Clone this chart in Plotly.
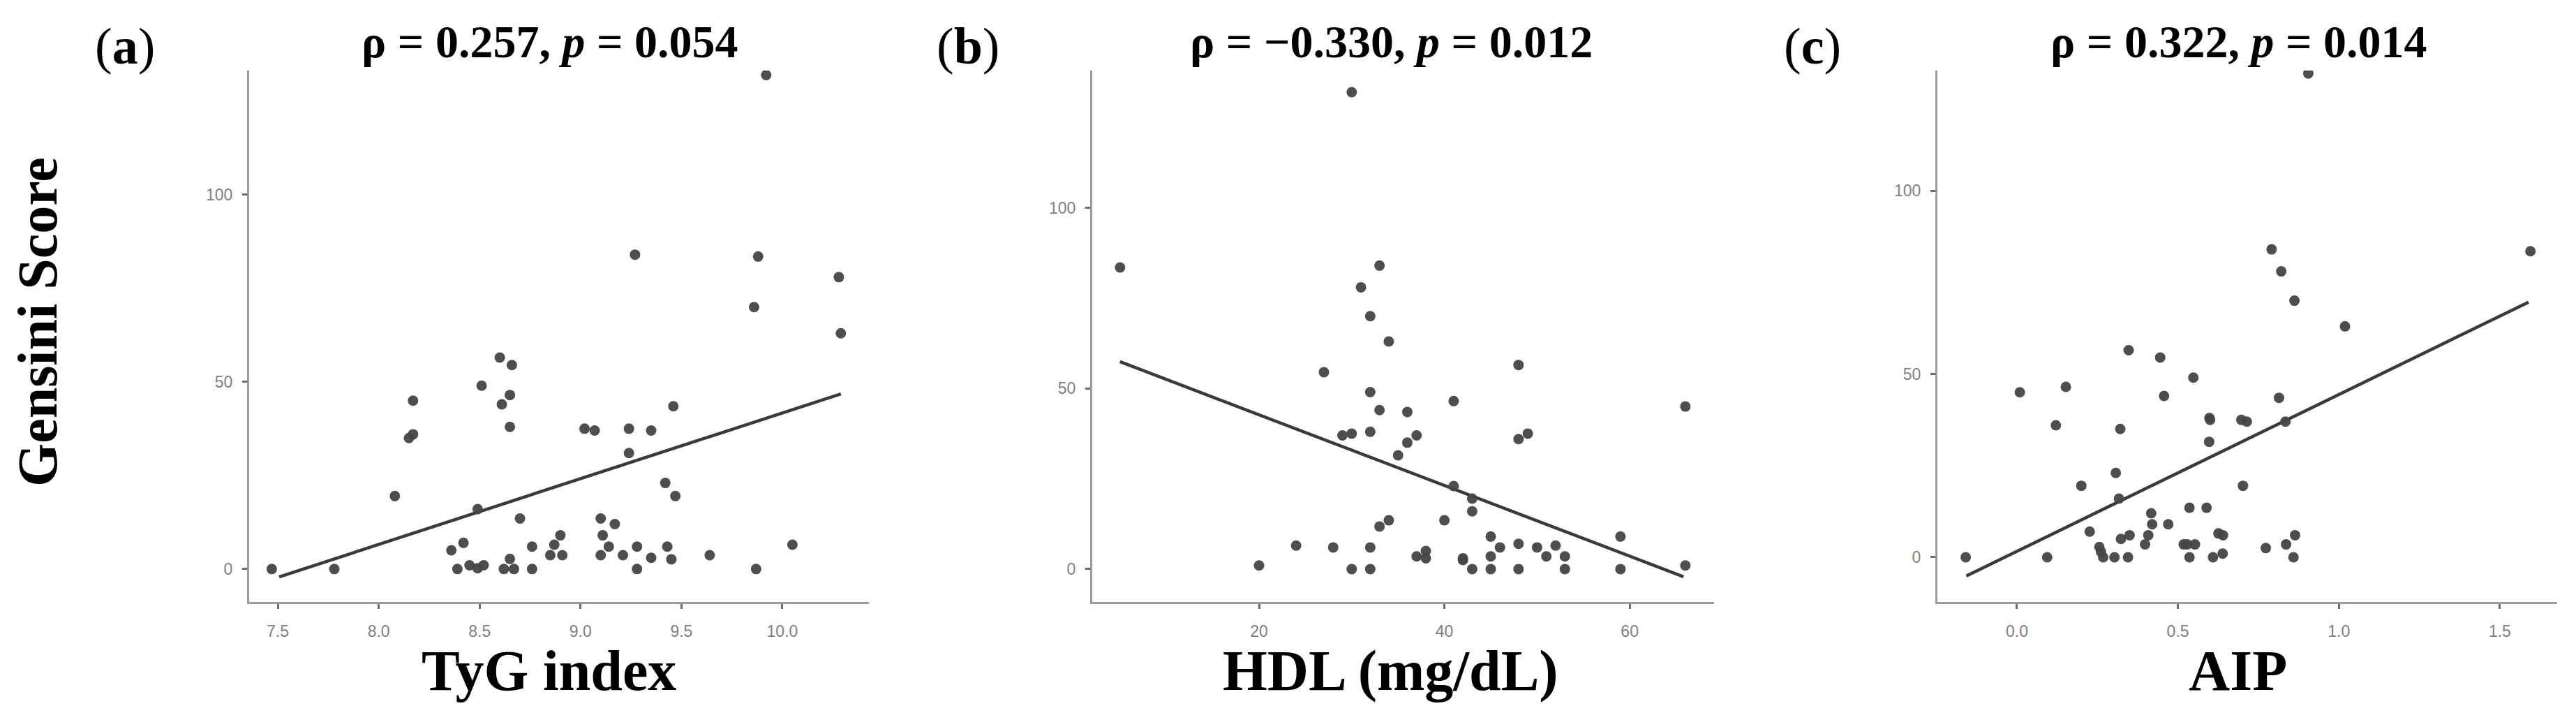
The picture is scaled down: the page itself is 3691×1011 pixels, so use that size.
import plotly.graph_objects as go

W, H = 3691, 1011

# ---------------- data ----------------
tyg_x = [9.92, 9.27, 9.88, 10.28, 9.86, 10.29, 8.60, 8.66, 8.51, 8.65, 8.17, 8.61, 9.46, 8.65,
         9.02, 9.07, 9.24, 9.35, 8.17, 8.15, 9.24, 9.42, 8.08, 9.47, 8.49, 8.70, 9.10, 9.17,
         8.90, 9.11, 8.42, 8.87, 8.76, 9.14, 9.28, 9.43, 10.05, 8.36, 8.85, 8.91, 9.10, 9.21,
         9.35, 9.64, 8.65, 9.45, 8.45, 8.52, 8.49, 7.47, 7.78, 8.39, 8.62, 8.67, 8.76, 9.28, 9.87]
tyg_y = [132, 84, 83.5, 78, 70, 63, 56.5, 54.5, 49, 46.5, 45, 44, 43.5, 38,
         37.5, 37, 37.5, 37, 36, 35, 31, 23, 19.5, 19.5, 16, 13.5, 13.5, 12,
         9, 9, 7, 6.5, 6, 6, 6, 6, 6.5, 5, 3.7, 3.7, 3.7, 3.7,
         3, 3.7, 2.7, 2.6, 1, 1, 0.2, 0, 0, 0, 0, 0, 0, 0, 0]
tyg_fit_x = [7.507, 10.29]
tyg_fit_y = [-2.1, 46.8]

hdl_x = [30, 5, 33, 31, 32, 34, 27, 48, 32, 41, 66, 33, 36, 32, 29, 30, 37, 49, 48, 36, 35,
         41, 43, 43, 34, 40, 33, 45, 59, 24, 28, 32, 48, 46, 50, 52, 38, 37, 38, 42, 42, 45,
         51, 53, 20, 66, 30, 32, 43, 45, 48, 53, 59]
hdl_y = [132, 83.5, 84, 78, 70, 63, 54.5, 56.5, 49, 46.5, 45, 44, 43.5, 38, 37, 37.5, 37, 37.5,
         36, 35, 31.5, 23, 19.5, 16, 13.5, 13.5, 11.8, 9, 9, 6.5, 6, 6, 7, 6, 6, 6.5, 5, 3.5,
         3, 3, 2.5, 3.5, 3.5, 3.5, 1, 1, 0, 0, 0, 0, 0, 0, 0]
hdl_fit_x = [4.99, 65.8]
hdl_fit_y = [57.4, -2.1]

aip_x = [0.905, 0.791, 1.595, 0.821, 0.862, 1.019, 0.347, 0.445, 0.548, 0.009, 0.152, 0.457,
         0.814, 0.121, 0.321, 0.598, 0.600, 0.697, 0.714, 0.834, 0.597, 0.307, 0.200, 0.702,
         0.317, 0.536, 0.589, 0.417, 0.420, 0.470, 0.226, 0.350, 0.408, 0.626, 0.640, 0.864,
         0.323, 0.398, 0.518, 0.529, 0.553, 0.836, 0.773, 0.256, 0.261, 0.639, -0.159, 0.094,
         0.268, 0.303, 0.345, 0.536, 0.609, 0.859]
aip_y = [132, 84, 83.5, 78, 70, 63, 56.5, 54.5, 49, 45, 46.5, 44,
         43.5, 36, 35, 38, 37.5, 37.5, 37, 37, 31.5, 23, 19.5, 19.5,
         16, 13.5, 13.5, 12, 9, 9, 7, 6, 6, 6.5, 6, 6,
         5, 3.5, 3.5, 3.5, 3.5, 3.5, 2.5, 2.8, 1.5, 1, 0, 0,
         0, 0, 0, 0, 0, 0]
aip_fit_x = [-0.157, 1.589]
aip_fit_y = [-5.1, 69.6]

panel_letters = ["a", "b", "c"]
titles = ["ρ = 0.257, <i>p</i> = 0.054",
          "ρ = −0.330, <i>p</i> = 0.012",
          "ρ = 0.322, <i>p</i> = 0.014"]
x_titles = ["TyG index", "HDL (mg/dL)", "AIP"]
y_title = "Gensini Score"

x_tickvals = [[7.5, 8.0, 8.5, 9.0, 9.5, 10.0], [20, 40, 60], [0.0, 0.5, 1.0, 1.5]]
x_ticktext = [["7.5", "8.0", "8.5", "9.0", "9.5", "10.0"], ["20", "40", "60"],
              ["0.0", "0.5", "1.0", "1.5"]]
y_tickvals = [0, 50, 100]

# ---------------- layout geometry (pixels) ----------------
x_px = [(349, 1237), (1557, 2448), (2768, 3656)]
y_px = (93, 854)
x_ranges = [[7.358, 10.429], [2.0, 69.1], [-0.247, 1.678]]
y_ranges = [[-8.8, 133.2], [-9.1, 138.0], [-12.2, 132.8]]
title_cx = [780, 1986, 3200]
letter_cx = [171, 1379, 2589]
xtitle_cx = [778, 1985, 3198]

def px_x(p):
    return p / W

def px_y(p):
    return 1 - p / H

fig = go.Figure()
data = [(tyg_x, tyg_y, tyg_fit_x, tyg_fit_y),
        (hdl_x, hdl_y, hdl_fit_x, hdl_fit_y),
        (aip_x, aip_y, aip_fit_x, aip_fit_y)]

axis_col = "#9a9a9a"
tick_col = "#6a6a6a"
tick_font = dict(family="Liberation Sans, Arial, sans-serif", size=23, color="#7f7f7f")
serif = "Liberation Serif, Times New Roman, serif"

for i, (xs, ys, fx, fy) in enumerate(data):
    n = "" if i == 0 else str(i + 1)
    fig.add_trace(go.Scatter(x=fx, y=fy, mode="lines", xaxis="x" + n, yaxis="y" + n,
                             line=dict(color="#3a3a3a", width=4.5),
                             showlegend=False, hoverinfo="skip"))
    fig.add_trace(go.Scatter(x=xs, y=ys, mode="markers", xaxis="x" + n, yaxis="y" + n,
                             marker=dict(size=15, color="#444444", opacity=0.95,
                                         line=dict(width=0)),
                             showlegend=False, hoverinfo="skip"))
    xa = dict(domain=[px_x(x_px[i][0]), px_x(x_px[i][1])], range=x_ranges[i],
              anchor="y" + n, showline=True, linecolor=axis_col, linewidth=3,
              showgrid=False, zeroline=False, ticks="outside", ticklen=7, tickwidth=3,
              tickcolor=tick_col, tickvals=x_tickvals[i], ticktext=x_ticktext[i],
              tickfont=tick_font, ticklabelstandoff=12, fixedrange=True)
    ya = dict(domain=[px_y(y_px[1]), px_y(y_px[0])], range=y_ranges[i],
              anchor="x" + n, showline=True, linecolor=axis_col, linewidth=3,
              showgrid=False, zeroline=False, ticks="outside", ticklen=7, tickwidth=3,
              tickcolor=tick_col, tickvals=y_tickvals, tickfont=tick_font,
              ticklabelstandoff=9, fixedrange=True)
    fig.layout["xaxis" + n] = xa
    fig.layout["yaxis" + n] = ya

annotations = []
for i in range(3):
    annotations.append(dict(text="<b>" + titles[i] + "</b>", x=px_x(title_cx[i]), y=px_y(52),
                            xref="paper", yref="paper", xanchor="center", yanchor="middle",
                            showarrow=False, font=dict(family=serif, size=66, color="black")))
    annotations.append(dict(text="(<b>" + panel_letters[i] + "</b>)", x=px_x(letter_cx[i]),
                            y=px_y(58), xref="paper", yref="paper", xanchor="center",
                            yanchor="middle", showarrow=False,
                            font=dict(family=serif, size=74, color="black")))
    annotations.append(dict(text="<b>" + x_titles[i] + "</b>", x=px_x(xtitle_cx[i]), y=px_y(952),
                            xref="paper", yref="paper", xanchor="center", yanchor="middle",
                            showarrow=False, font=dict(family=serif, size=82, color="black")))
annotations.append(dict(text="<b>" + y_title + "</b>", x=px_x(46), y=px_y(453),
                        xref="paper", yref="paper", xanchor="center", yanchor="middle",
                        textangle=-90, showarrow=False,
                        font=dict(family=serif, size=80, color="black")))

fig.update_layout(width=W, height=H, margin=dict(l=0, r=0, t=0, b=0),
                  paper_bgcolor="white", plot_bgcolor="white",
                  annotations=annotations)

fig.write_html("out.html", config={"displayModeBar": False})
